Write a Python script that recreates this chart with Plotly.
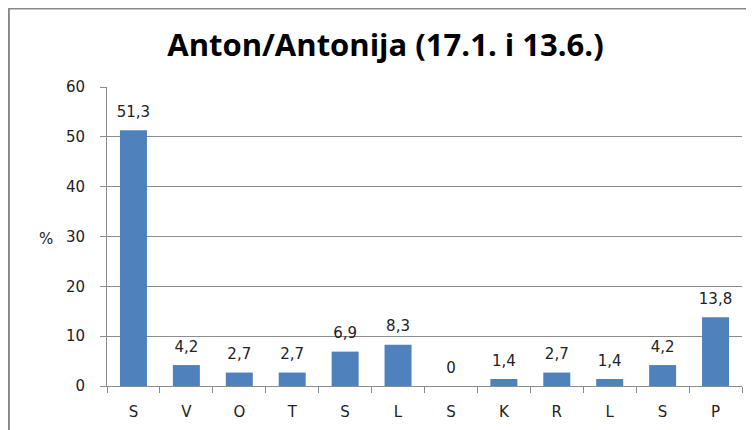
import plotly.graph_objects as go

categories = ["S", "V", "O", "T", "S", "L", "S", "K", "R", "L", "S", "P"]
values = [51.3, 4.2, 2.7, 2.7, 6.9, 8.3, 0, 1.4, 2.7, 1.4, 4.2, 13.8]
y_ticks = [0, 10, 20, 30, 40, 50, 60]

positions = list(range(len(categories)))
labels = [f"{v:g}".replace(".", ",") for v in values]

TICK_FONT = dict(family="DejaVu Sans", size=15, color="#222222")
GRID = "#8c8c8c"

# page body has an 8px margin, so the figure is 8px smaller than the window
fig = go.Figure()
fig.add_trace(go.Bar(
    x=positions,
    y=values,
    width=0.51,
    marker=dict(color="#4f81bd", line=dict(width=0)),
    hoverinfo="skip",
))
# value labels sit a little higher above the bars than plotly's outside text
fig.add_trace(go.Scatter(
    x=positions,
    y=values,
    mode="markers+text",
    text=labels,
    textposition="top center",
    textfont=TICK_FONT,
    marker=dict(size=14, color="rgba(0,0,0,0)"),
    cliponaxis=False,
    hoverinfo="skip",
))

fig.update_layout(
    width=746,
    height=422,
    margin=dict(l=99, r=12, t=79, b=44, autoexpand=False),
    paper_bgcolor="white",
    plot_bgcolor="white",
    showlegend=False,
    title=dict(
        text="<b>Anton/Antonija (17.1. i 13.6.)</b>",
        font=dict(family="Open Sans", size=31, color="black"),
        x=0.506, xanchor="center", y=0.912, yanchor="middle",
    ),
    xaxis=dict(
        range=[-0.5, 11.5],
        tickmode="array",
        tickvals=positions,
        ticktext=categories,
        ticks="",
        ticklabelstandoff=12,
        tickfont=TICK_FONT,
        showgrid=False,
        zeroline=False,
        showline=True,
        linecolor=GRID,
        linewidth=1,
        automargin=False,
        minor=dict(ticks="outside", tick0=-0.5, dtick=1, ticklen=6,
                   tickcolor=GRID, showgrid=False),
    ),
    yaxis=dict(
        range=[0, 60],
        tickmode="array",
        tickvals=y_ticks,
        ticks="outside",
        ticklen=6,
        tickcolor=GRID,
        ticklabelstandoff=12,
        tickfont=TICK_FONT,
        showgrid=True,
        gridcolor=GRID,
        gridwidth=1,
        zeroline=False,
        showline=True,
        linecolor=GRID,
        linewidth=1,
        automargin=False,
    ),
    annotations=[dict(
        text="%", xref="paper", yref="paper", x=-0.11, y=0.49,
        showarrow=False, font=TICK_FONT,
    )],
    shapes=[dict(
        type="rect", xref="paper", yref="paper",
        x0=-0.1545, x1=1.1, y0=-0.3, y1=1.2625,
        line=dict(color="#888888", width=2),
        layer="below",
    )],
)

fig.write_html("out.html")
